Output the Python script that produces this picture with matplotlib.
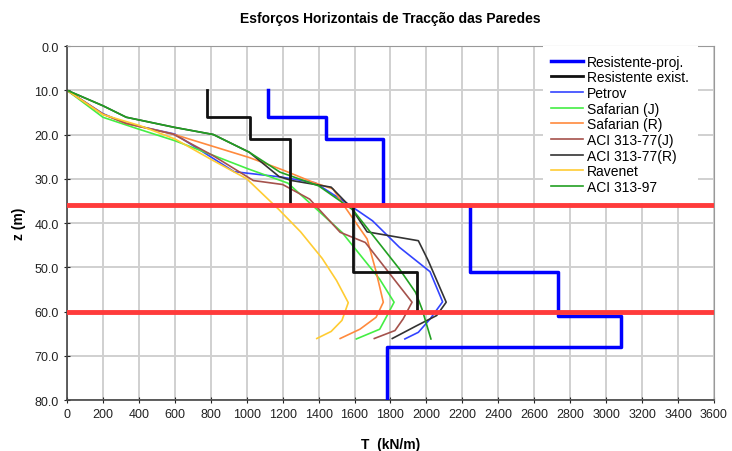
import numpy as np
import matplotlib.pyplot as plt

plt.rcParams['font.family'] = ['Liberation Sans', 'DejaVu Sans']

# Resistant capacity steps (T in kN/m, z in m)
proj_T = [1120, 1120, 1440, 1440, 1760, 1760, 2240, 2240, 2730, 2730, 3080, 3080, 1780, 1780]
proj_z = [10, 16, 16, 21, 21, 36, 36, 51, 51, 61, 61, 68, 68, 80]

exist_T = [780, 780, 1020, 1020, 1240, 1240, 1590, 1590, 1950, 1950]
exist_z = [10, 16, 16, 21, 21, 36, 36, 51, 51, 60]

# Horizontal tension by method
petrov_T = [0, 200, 330, 600, 930, 1190, 1380, 1560, 1700, 1850, 2020, 2090, 2020, 1955, 1880]
petrov_z = [10, 15.3, 17.5, 19.9, 28.4, 29.6, 30.9, 35.6, 39.5, 45.5, 51, 57.8, 61.7, 64.7, 66.2]

safJ_T = [0, 200, 400, 600, 800, 1010, 1230, 1530, 1740, 1820, 1780, 1740, 1610]
safJ_z = [10, 16.1, 18.8, 21.4, 24.5, 27.8, 31, 42.1, 52.7, 57.9, 61, 64, 66.2]

safR_T = [0, 200, 330, 590, 814, 1014, 1200, 1370, 1480, 1540, 1670, 1720, 1760, 1720, 1630, 1520]
safR_z = [10, 15.4, 17.5, 19.9, 22.7, 25.2, 28, 30.8, 32.3, 36, 43.6, 51, 57.9, 61.3, 64, 66.1]

aci77J_T = [0, 200, 330, 590, 814, 1037, 1200, 1350, 1520, 1660, 1920, 1870, 1825, 1710]
aci77J_z = [10, 15.4, 17.5, 19.9, 24.8, 30.4, 31.3, 34.6, 42.1, 44.4, 57.9, 61.7, 64.3, 66.1]

aci77R_T = [0, 200, 330, 600, 814, 1014, 1180, 1250, 1470, 1580, 1670, 1955, 2010, 2110, 2057, 1946, 1810]
aci77R_z = [10, 13.5, 16.1, 18.4, 20, 24, 29.5, 30.4, 31.9, 36.5, 42, 44, 48.5, 57.9, 60.9, 63.2, 66.1]

ravenet_T = [0, 200, 406, 600, 814, 1000, 1180, 1300, 1420, 1500, 1565, 1530, 1470, 1390]
ravenet_z = [10, 15.5, 18, 21, 25.9, 30, 37, 42, 48, 53, 58, 62, 64.5, 66.1]

aci97_T = [0, 200, 330, 600, 814, 1014, 1185, 1400, 1590, 1850, 1940, 1975, 2025]
aci97_z = [10, 13.5, 16.1, 18.4, 20, 24, 28.5, 31.6, 37, 50.4, 55.7, 59.4, 66.2]

limit_z = [36, 60]

fig = plt.figure(figsize=(7.32, 4.52), dpi=100)
ax = fig.add_axes([0.0915, 0.1128, 0.8839, 0.7832])

ax.plot(proj_T, proj_z, color='#0000ff', lw=2.5, label='Resistente-proj.', zorder=3)
ax.plot(exist_T, exist_z, color='#111111', lw=2.0, label='Resistente exist.', zorder=3)
ax.plot(petrov_T, petrov_z, color='#3344ff', lw=1.2, label='Petrov')
ax.plot(safJ_T, safJ_z, color='#44ee44', lw=1.2, label='Safarian (J)')
ax.plot(safR_T, safR_z, color='#ff8a3d', lw=1.2, label='Safarian (R)')
ax.plot(aci77J_T, aci77J_z, color='#a5524c', lw=1.2, label='ACI 313-77(J)')
ax.plot(aci77R_T, aci77R_z, color='#333333', lw=1.2, label='ACI 313-77(R)')
ax.plot(ravenet_T, ravenet_z, color='#ffcc33', lw=1.2, label='Ravenet')
ax.plot(aci97_T, aci97_z, color='#22a022', lw=1.2, label='ACI 313-97')

for z in limit_z:
    ax.axhline(z, color='#ff3b3b', lw=3.5, zorder=5)

ax.set_xlim(0, 3600)
ax.set_ylim(80, 0)
ax.set_xticks(np.arange(0, 3601, 200))
ax.set_yticks(np.arange(0, 81, 10))
ax.set_yticklabels(['%.1f' % v for v in np.arange(0, 81, 10)])
ax.tick_params(direction='inout', length=5, labelsize=9, colors='#222222', width=0.8)
ax.grid(True, color='#d0d0d0', lw=1.4)
ax.set_axisbelow(True)

for side in ['left', 'bottom']:
    ax.spines[side].set_color('#444444')
    ax.spines[side].set_linewidth(1.2)
for side in ['top', 'right']:
    ax.spines[side].set_color('#999999')

ax.set_xlabel('T  (kN/m)', fontsize=10, fontweight='bold', labelpad=12)
ax.set_ylabel('z (m)', fontsize=10, fontweight='bold', labelpad=6)
ax.set_title('Esforços Horizontais de Tracção das Paredes', fontsize=10, fontweight='bold', pad=17)

leg = ax.legend(loc='upper left', bbox_to_anchor=(0.735, 1.0), fontsize=10, frameon=True,
                fancybox=False, framealpha=1, edgecolor='none', borderaxespad=0.0,
                labelspacing=0.12, handlelength=2.3, handletextpad=0.3, borderpad=0.62)
leg.set_zorder(4)

fig.savefig('out.png', dpi=100)
